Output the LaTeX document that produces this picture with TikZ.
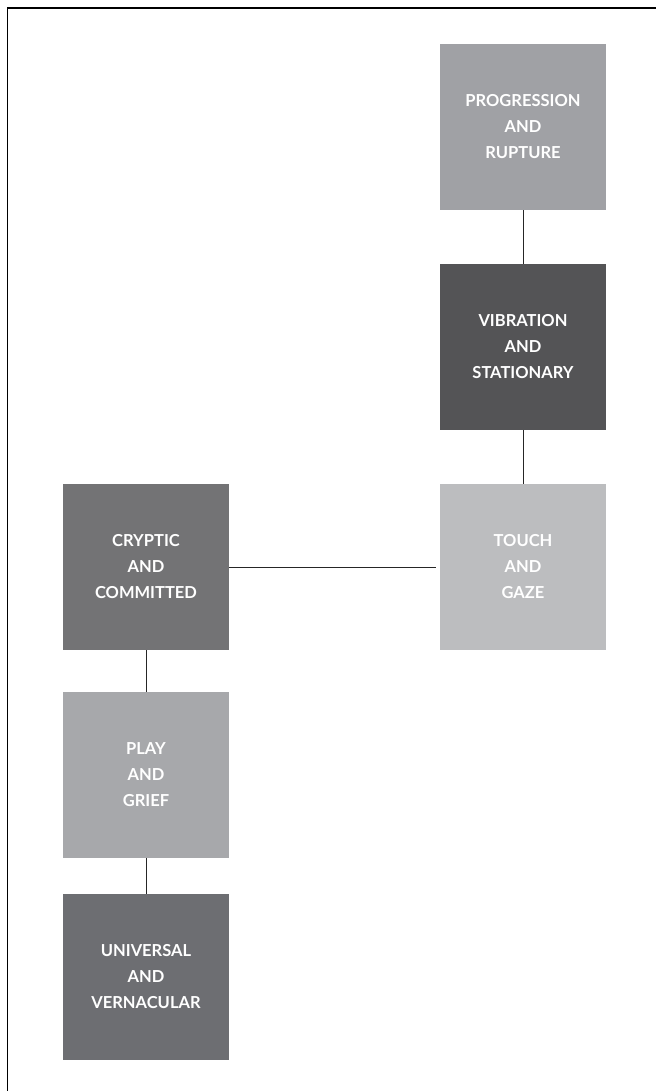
\documentclass[tikz,border=0pt]{standalone}
\usepackage{fontspec}
\setmainfont{Lato}
\definecolor{cProg}{HTML}{A0A1A5}
\definecolor{cVib}{HTML}{545456}
\definecolor{cTouch}{HTML}{BCBDBF}
\definecolor{cCrypt}{HTML}{737375}
\definecolor{cPlay}{HTML}{A7A8AB}
\definecolor{cUniv}{HTML}{6D6E72}
\begin{document}
\begin{tikzpicture}[x=1pt,y=-1pt,
  box/.style={rectangle, minimum width=166pt, minimum height=166pt, inner sep=0pt,
    text=white, align=center, font=\fontsize{16.5}{26}\selectfont\bfseries},
  link/.style={draw=black!85, line width=1pt}]
\useasboundingbox (0,0) rectangle (656,1091);
\draw[line width=1.5pt] (7.5,1091) -- (7.5,8) -- (656,8);
\node[box, fill=cProg]  (prog)  at (523,127) {PROGRESSION\\AND\\RUPTURE};
\node[box, fill=cVib]   (vib)   at (523,347) {VIBRATION\\AND\\STATIONARY};
\node[box, fill=cTouch] (touch) at (523,567) {TOUCH\\AND\\GAZE};
\node[box, fill=cCrypt] (crypt) at (146,567) {CRYPTIC\\AND\\COMMITTED};
\node[box, fill=cPlay]  (play)  at (146,775) {PLAY\\AND\\GRIEF};
\node[box, fill=cUniv]  (univ)  at (146,977) {UNIVERSAL\\AND\\VERNACULAR};
\draw[link] (prog) -- (vib);
\draw[link] (vib) -- (touch);
\draw[link, shorten >=4pt] (crypt) -- (touch);
\draw[link] (crypt) -- (play);
\draw[link] (play) -- (univ);
\end{tikzpicture}
\end{document}
